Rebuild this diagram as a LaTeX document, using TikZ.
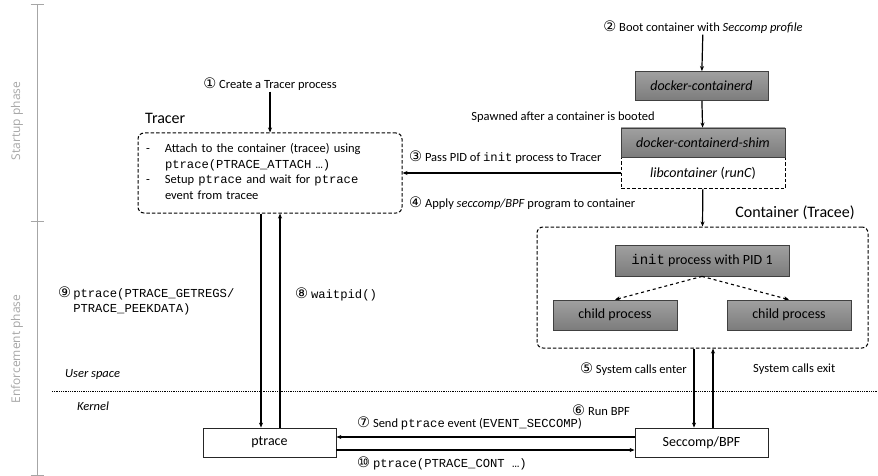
\documentclass[tikz,border=0pt]{standalone}
\usepackage{fontspec}
\setmainfont{Carlito}
\newfontfamily\codefont{Liberation Mono}
\newfontfamily\circfont{DejaVu Sans}
\newfontfamily\phasefont{Open Sans}
\usepackage{xcolor}
\usetikzlibrary{positioning, calc, arrows.meta}
\definecolor{phaseColor}{RGB}{166,166,166}
\definecolor{boxTop}{RGB}{160,160,160}
\definecolor{boxBottom}{RGB}{124,124,124}
\newcommand{\cnum}[1]{{\circfont\fontsize{14.5}{14}\selectfont #1}}
\newcommand{\code}[1]{{\codefont\fontsize{12.2}{14}\selectfont #1}}
\tikzset{
    lbl/.style={
        font=\fontsize{12.5}{15.5}\selectfont,
        inner sep=1pt
    },
    heading/.style={
        font=\fontsize{16}{18}\selectfont,
        inner sep=1pt
    },
    phaselbl/.style={
        font=\phasefont\fontsize{12}{14}\selectfont,
        text=phaseColor,
        rotate=90
    },
    phaseaxis/.style={
        draw=phaseColor,
        line width=1pt
    },
    procnode/.style={
        draw=black!75,
        line width=0.8pt,
        top color=boxTop,
        bottom color=boxBottom,
        font=\fontsize{14}{16}\selectfont,
        minimum height=29pt,
        inner sep=0pt
    },
    plainnode/.style={
        draw=black!85,
        line width=0.8pt,
        fill=white,
        font=\fontsize{14}{16}\selectfont,
        minimum width=133pt,
        minimum height=29pt,
        inner sep=0pt
    },
    groupnode/.style={
        draw=black,
        dash pattern=on 3.5pt off 2pt,
        line width=1pt,
        rounded corners=6pt
    },
    ptr/.style={
        -{Stealth[length=5pt,width=4pt]},
        line width=1.2pt
    },
    spawnptr/.style={
        -{Stealth[length=5pt,width=4pt]},
        line width=1.1pt,
        dashed
    }
}

\begin{document}
\begin{tikzpicture}[x=1pt, y=-1pt]
        \useasboundingbox (0,0) rectangle (878,476);

        % phases
        \coordinate (axTop) at (37,5);
        \coordinate (axMid) at (37,221);
        \coordinate (axBot) at (37,475);
        \draw[phaseaxis] (axTop) -- (axBot);
        \foreach \c in {axTop, axMid, axBot}
            \draw[phaseaxis] ([xshift=-6.5pt]\c) -- ([xshift=6.5pt]\c);
        \node[phaselbl] (startup) at (17,121) {Startup phase};
        \node[phaselbl] (enforce) at (17,349) {Enforcement phase};

        % user space / kernel
        \coordinate (sepL) at (52,391);
        \coordinate (sepR) at (878,391);
        \draw[densely dotted, line width=0.8pt] (sepL) -- (sepR);
        \node[lbl, anchor=west, font=\fontsize{12.5}{14}\selectfont\itshape] (user) at (64,374) {User space};
        \node[lbl, anchor=west, font=\fontsize{12.5}{14}\selectfont\itshape] (kernel) at (76,406) {Kernel};

        % tracer
        \node[groupnode, lbl, text width=248pt, inner sep=8pt, minimum height=80pt, align=left] (tracer) at (270,173)
            {\begin{tabular}{@{}p{19pt}@{}l@{}}
              - & Attach to the container (tracee) using\\
                & \code{ptrace(PTRACE\_ATTACH …)}\\
              - & Setup \code{ptrace} and wait for \code{ptrace}\\
                & event from tracee
             \end{tabular}};
        \node[heading, anchor=west] (tracerlbl) at (144,118) {Tracer};
        \node[lbl] (step1) at (270,84) {\cnum{①} Create a Tracer process};

        % docker side
        \node[lbl] (step2) at (703,27) {\cnum{②} Boot container with \textit{Seccomp profile}};
        \node[procnode, minimum width=133pt, font=\fontsize{14}{16}\selectfont\itshape] (containerd) at (701.5,86) {docker-containerd};
        \node[lbl] (spawned) at (563,117) {Spawned after a container is booted};
        \node[groupnode, rounded corners=0pt, fill=white, minimum width=164pt, minimum height=31pt, font=\fontsize{14}{16}\selectfont] (lib) at (703,173) {\textit{libcontainer} (\textit{runC})};
        \node[procnode, minimum width=164pt, font=\fontsize{14}{16}\selectfont\itshape] (shim) at (703,142.5) {docker-containerd-shim};
        \node[lbl, anchor=west] (step3) at (408,157) {\cnum{③} Pass PID of \code{init} process to Tracer};
        \node[lbl, anchor=west] (step4) at (408,203) {\cnum{④} Apply \textit{seccomp/BPF} program to container};

        % container
        \node[groupnode, minimum width=331pt, minimum height=121pt] (container) at (702.5,287.5) {};
        \node[heading] (containerlbl) at (795,213) {Container (Tracee)};
        \node[procnode, minimum width=174pt, minimum height=31pt] (init) at (702,260.5) {{\codefont\fontsize{14}{16}\selectfont init} process with PID 1};
        \node[procnode, minimum width=124pt, minimum height=30pt] (childA) at (615,315) {child process};
        \node[procnode, minimum width=124pt, minimum height=30pt] (childB) at (789,315) {child process};

        % kernel side
        \node[plainnode] (ptrace) at (269.5,442.5) {ptrace};
        \node[plainnode] (seccomp) at (701.5,442.5) {Seccomp/BPF};

        % labels of the enforcement steps
        \node[lbl, anchor=east] (step5) at (688,369) {\cnum{⑤} System calls enter};
        \node[lbl, anchor=west] (exitlbl) at (752,369) {System calls exit};
        \node[lbl, anchor=west] (step6) at (571,410) {\cnum{⑥} Run BPF};
        \node[lbl, anchor=west] (step7) at (356,423) {\cnum{⑦} Send \code{ptrace} event (\code{EVENT\_SECCOMP})};
        \node[lbl, anchor=west] (step10) at (356,463) {\cnum{⑩} \code{ptrace(PTRACE\_CONT …)}};
        \node[lbl, anchor=west] (step8) at (294,294) {\cnum{⑧} \code{waitpid()}};
        \node[lbl, anchor=west] (step9) at (57,302)
            {\begin{tabular}{@{}l@{\,}l@{}}
              \cnum{⑨} & \code{ptrace(PTRACE\_GETREGS/}\\
                       & \code{PTRACE\_PEEKDATA)}
             \end{tabular}};

        % connectors
        \draw[ptr] (step1) -- (tracer.north);
        \draw[ptr] (step2) -- (containerd);
        \draw[ptr] (containerd) -- (shim);
        \draw[ptr] (lib.west) -- (tracer.east);
        \draw[ptr] (lib) -- (container.north);
        \draw[spawnptr] (init.south) -- (childA.north);
        \draw[spawnptr] (init.south) -- (childB.north);
        \draw[ptr] ([xshift=-8.5pt]container.south) -- ([xshift=-8.5pt]container.south |- seccomp.north);
        \draw[ptr] ([xshift=10.5pt]container.south |- seccomp.north) -- ([xshift=10.5pt]container.south);
        \draw[ptr] ([xshift=-9pt]tracer.south) -- ([xshift=-9pt]tracer.south |- ptrace.north);
        \draw[ptr] ([xshift=10pt]tracer.south |- ptrace.north) -- ([xshift=10pt]tracer.south);
        \draw[ptr] ([yshift=5.5pt]seccomp.west) -- ([yshift=5.5pt]seccomp.west -| ptrace.east);
        \draw[ptr] ([yshift=-7.5pt]ptrace.east) -- ([yshift=-7.5pt]ptrace.east -| seccomp.west);
    \end{tikzpicture}
\end{document}
